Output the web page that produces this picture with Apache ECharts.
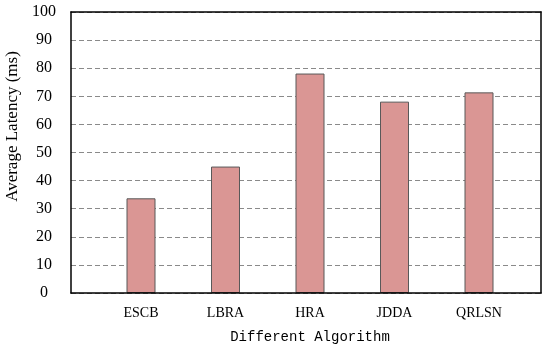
<!DOCTYPE html>
<html>
<head>
<meta charset="utf-8">
<script src="https://cdn.jsdelivr.net/npm/echarts@6/dist/echarts.min.js"></script>
<style>
  html, body { margin: 0; padding: 0; background: #fff; }
  #chart { width: 550px; height: 351px; }
</style>
</head>
<body>
<div id="chart"></div>
<script>
// data
const algorithms = ['ESCB', 'LBRA', 'HRA', 'JDDA', 'QRLSN']
const latency = [33.7, 45.0, 78.1, 68.1, 71.4]
const yTicks = [0, 10, 20, 30, 40, 50, 60, 70, 80, 90, 100]

const mychart = echarts.init(document.getElementById('chart'))

const serif = 'Liberation Serif'
const mono = 'Liberation Mono'

// black frame line, not pinned to the other axis' zero
const frameLine = {show: true, onZero: false, lineStyle: {color: '#000', width: 1.5}}

let option = {
  animation: false,
  // grid 0 = frame box + y scale, grid 1 = bars (narrower so categories sit like the original)
  grid: [
    {left: 71, right: 9, top: 12, bottom: 58, outerBoundsMode: 'none'},
    {left: 98.75, right: 28.75, top: 12, bottom: 58, outerBoundsMode: 'none'}
  ],
  xAxis: [
    {
      gridIndex: 0, type: 'value', min: 0, max: 1, position: 'bottom', z: 3,
      axisLine: frameLine,
      axisTick: {show: false}, axisLabel: {show: false}, splitLine: {show: false}
    },
    {
      gridIndex: 0, type: 'value', min: 0, max: 1, position: 'top', z: 3,
      axisLine: frameLine,
      axisTick: {show: false}, axisLabel: {show: false}, splitLine: {show: false}
    },
    {
      gridIndex: 1, type: 'category', data: algorithms,
      axisLine: {show: false}, axisTick: {show: false},
      axisLabel: {margin: 13, color: '#000', fontFamily: serif, fontSize: 14},
      name: 'Different Algorithm', nameLocation: 'middle', nameGap: 37,
      nameTextStyle: {color: '#000', fontFamily: mono, fontSize: 14}
    }
  ],
  yAxis: [
    {
      gridIndex: 0, type: 'value', min: yTicks[0], max: yTicks[yTicks.length - 1], interval: 10,
      position: 'left',
      axisLine: frameLine,
      axisTick: {show: false},
      axisLabel: {margin: 27, align: 'center', color: '#000', fontFamily: serif, fontSize: 16},
      splitLine: {show: true, lineStyle: {color: '#8a8a8a', type: [5, 3], width: 1}},
      name: 'Average Latency (ms)', nameLocation: 'middle', nameGap: 47,
      nameTextStyle: {color: '#000', fontFamily: serif, fontSize: 17, padding: [0, 0, 0, 52]}
    },
    {
      gridIndex: 0, type: 'value', min: 0, max: 100, position: 'right', z: 3,
      axisLine: frameLine,
      axisTick: {show: false}, axisLabel: {show: false}, splitLine: {show: false}
    },
    {
      gridIndex: 1, type: 'value', min: 0, max: 100, show: false
    }
  ],
  series: [
    {
      type: 'bar',
      xAxisIndex: 2,
      yAxisIndex: 2,
      data: latency,
      barWidth: 29,
      itemStyle: {
        color: '#da9694',
        borderColor: '#595959',
        borderWidth: 1
      }
    }
  ]
}
mychart.setOption(option)
</script>
</body>
</html>
